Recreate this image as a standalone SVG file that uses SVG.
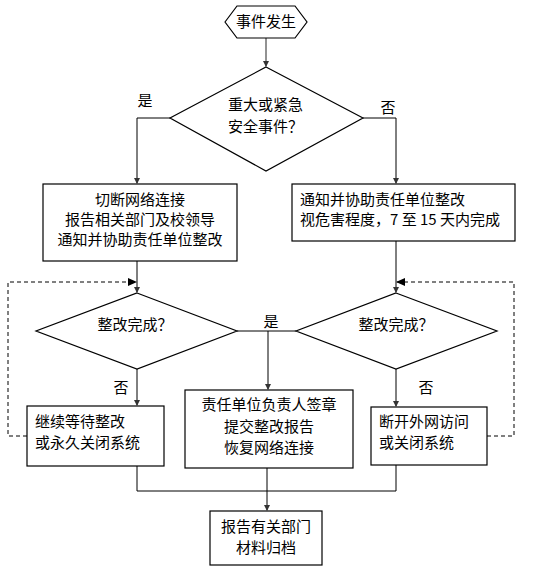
<svg xmlns="http://www.w3.org/2000/svg" width="545" height="572" viewBox="0 0 545 572">
<defs>
<marker id="ah" markerWidth="6" markerHeight="6" refX="5" refY="3" orient="auto" markerUnits="userSpaceOnUse"><path d="M0,0 L6,3 L0,6 z" fill="#333"/></marker>
<marker id="ahd" markerWidth="9" markerHeight="8" refX="8" refY="4" orient="auto" markerUnits="userSpaceOnUse"><path d="M0,0 L9,4 L0,8 z" fill="#000"/></marker>
<style>
.s{fill:#fff;stroke:#000;stroke-width:1.2}
.t{font-family:"Noto Sans CJK SC","Liberation Sans",sans-serif;font-size:15px;fill:#000}
.c{text-anchor:middle}
.l{fill:none;stroke:#000;stroke-width:1}
.d{fill:none;stroke:#000;stroke-width:1;stroke-dasharray:4,3}
</style>
</defs>
<rect width="545" height="572" fill="#fff"/>
<g id="connectors">
<line x1="266" y1="38" x2="266" y2="66" stroke="#777" stroke-width="1.6" marker-end="url(#ah)"/>
<polyline class="l" points="170,118 137,118 137,183" marker-end="url(#ah)"/>
<polyline class="l" points="363,118 396,118 396,183" marker-end="url(#ah)"/>
<line class="l" x1="137" y1="261" x2="137" y2="292" marker-end="url(#ah)"/>
<line class="l" x1="396" y1="241" x2="396" y2="292" marker-end="url(#ah)"/>
<line class="l" x1="237" y1="331" x2="296" y2="331"/>
<line class="l" x1="268" y1="331" x2="268" y2="389" marker-end="url(#ah)"/>
<line class="l" x1="137" y1="369" x2="137" y2="405" marker-end="url(#ah)"/>
<line class="l" x1="396" y1="369" x2="396" y2="406" marker-end="url(#ah)"/>
<polyline class="d" points="27,436 8,436 8,282 136,282" marker-end="url(#ahd)"/>
<polyline class="d" points="487,436 514,436 514,282 397,282" marker-end="url(#ahd)"/>
<polyline class="l" points="137,466 137,491 396,491 396,465"/>
<line class="l" x1="267" y1="468" x2="267" y2="510" marker-end="url(#ah)"/>
<text class="t c" x="145" y="106">是</text>
<text class="t c" x="388" y="113">否</text>
<text class="t c" x="271" y="327">是</text>
<text class="t c" x="121" y="393">否</text>
<text class="t c" x="426" y="393">否</text>
</g>
<g id="start">
<polygon class="s" points="225,22 237,6 295,6 307,22 295,38 237,38"/>
<text class="t c" x="266" y="27">事件发生</text>
</g>
<g id="decision1">
<polygon class="s" points="266,67 363,118 266,171 170,118"/>
<text class="t" x="228" y="110">重大或紧急</text>
<text class="t" x="228" y="132">安全事件？</text>
</g>
<g id="box-left">
<rect class="s" x="43" y="184" width="194" height="77"/>
<text class="t c" x="140" y="205">切断网络连接</text>
<text class="t c" x="140" y="225">报告相关部门及校领导</text>
<text class="t c" x="140" y="245">通知并协助责任单位整改</text>
</g>
<g id="box-right">
<rect class="s" x="292" y="184" width="223" height="57"/>
<text class="t" x="300" y="205">通知并协助责任单位整改</text>
<text class="t" x="300" y="225">视危害程度，7 至 15 天内完成</text>
</g>
<g id="decision2">
<polygon class="s" points="137,293 237,331 137,369 36,331"/>
<text class="t c" x="135" y="330">整改完成？</text>
</g>
<g id="decision3">
<polygon class="s" points="396,293 497,331 396,369 296,331"/>
<text class="t c" x="396" y="330">整改完成？</text>
</g>
<g id="box-wait">
<rect class="s" x="27" y="406" width="137" height="60"/>
<text class="t" x="35" y="427">继续等待整改</text>
<text class="t" x="35" y="448">或永久关闭系统</text>
</g>
<g id="box-done">
<rect class="s" x="185" y="390" width="168" height="78"/>
<text class="t c" x="269" y="410">责任单位负责人签章</text>
<text class="t c" x="269" y="432">提交整改报告</text>
<text class="t c" x="269" y="453">恢复网络连接</text>
</g>
<g id="box-cut">
<rect class="s" x="371" y="407" width="116" height="58"/>
<text class="t" x="379" y="427">断开外网访问</text>
<text class="t" x="379" y="448">或关闭系统</text>
</g>
<g id="box-end">
<rect class="s" x="210" y="511" width="112" height="54"/>
<text class="t c" x="266" y="532">报告有关部门</text>
<text class="t c" x="266" y="553">材料归档</text>
</g>
</svg>
